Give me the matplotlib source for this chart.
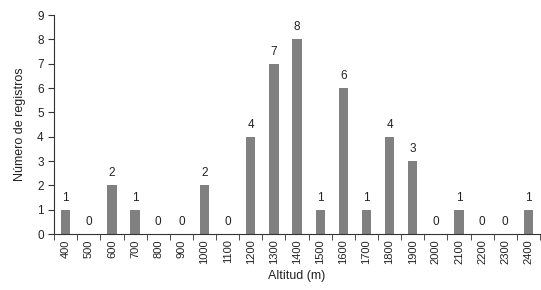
import matplotlib.pyplot as plt
import numpy as np

altitudes = [str(a) for a in range(400, 2500, 100)]
registros = [1, 0, 2, 1, 0, 0, 2, 0, 4, 7, 8, 1, 6, 1, 4, 3, 0, 1, 0, 0, 1]

plt.rcParams['font.family'] = ['Liberation Sans', 'DejaVu Sans']

fig = plt.figure(figsize=(5.41, 2.9), dpi=100)
ax = fig.add_axes([0.1, 0.193, 0.898, 0.755])

x = np.arange(len(altitudes))
bars = ax.bar(x, registros, width=0.4, color='#808080')

for b, v in zip(bars, registros):
    ax.text(b.get_x() + b.get_width() / 2, v + 0.25, f'{v}', ha='center', va='bottom',
            fontsize=8.5, color='#222222')

ax.set_xlim(-0.5, len(altitudes) - 0.5)
ax.set_ylim(0, 9)
ax.set_yticks(range(0, 10))
ax.set_xticks(x)
ax.set_xticklabels(altitudes, rotation=90, fontsize=8)
ax.set_xticks(np.arange(-0.5, len(altitudes), 1), minor=True)
ax.tick_params(axis='x', which='major', length=0, pad=4, labelcolor='#222222')
ax.tick_params(axis='x', which='minor', length=4, color='#333333')
ax.tick_params(axis='y', labelsize=8.5, length=4, color='#333333', labelcolor='#222222')

for s in ['top', 'right']:
    ax.spines[s].set_visible(False)
for s in ['left', 'bottom']:
    ax.spines[s].set_color('#333333')
    ax.spines[s].set_linewidth(0.8)

ax.set_xlabel('Altitud (m)', fontsize=9, labelpad=4, color='#222222')
ax.set_ylabel('Número de registros', fontsize=9, labelpad=8, color='#222222')

fig.savefig('out.png', dpi=100)
